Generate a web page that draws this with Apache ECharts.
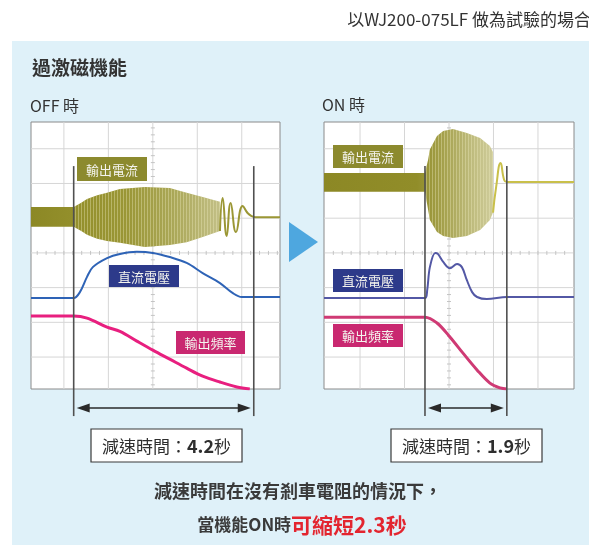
<!DOCTYPE html>
<html><head><meta charset="utf-8">
<script src="https://cdn.jsdelivr.net/npm/echarts@6/dist/echarts.min.js"></script>
<style>html,body{margin:0;padding:0;background:#fff}#c{width:589px;height:545px}</style>
</head><body><div id="c"></div><script>
// ---- data (x in scope divisions, y in scope divisions) ----
const gridX = [0, 1, 2, 3, 4];
const gridY = [0, 1, 2, 3, 4, 5, 6];
const offCursors = [0.22, 4.27];
const onCursors = [1.46, 3.30];
const cursorSpan = [5.5, -1.70];
const arrowLevel = -1.47;

// OFF panel
const offCurrentEnv = [ // [x, upper, lower]
  [-0.74, 4.32, 3.75], [0.22, 4.32, 3.75], [0.40, 4.45, 3.62], [0.52, 4.55, 3.52], [0.75, 4.66, 3.41],
  [0.97, 4.73, 3.34], [1.26, 4.84, 3.29], [1.82, 4.90, 3.17], [2.38, 4.87, 3.23], [2.76, 4.73, 3.31],
  [3.12, 4.61, 3.46], [3.51, 4.47, 3.63]
];
const offCurrentTail = [
  [3.51, 3.63], [3.57, 4.58], [3.66, 3.49], [3.75, 4.44], [3.87, 3.60],
  [4.02, 4.35], [4.13, 4.15], [4.22, 4.06], [4.31, 4.03], [4.86, 4.03]
];
const offVoltage = [
  [-0.74, 1.70], [0.22, 1.70], [0.36, 1.87], [0.52, 2.31], [0.65, 2.59], [0.97, 2.85],
  [1.26, 2.97], [1.64, 3.03], [2.0, 3.0], [2.38, 2.88], [2.76, 2.71], [3.12, 2.42],
  [3.51, 2.13], [3.80, 1.84], [4.0, 1.73], [4.86, 1.73]
];
const offFreq = [
  [-0.74, 1.18], [0.22, 1.18], [0.52, 1.12], [0.97, 0.86], [1.26, 0.74], [1.64, 0.46],
  [2.0, 0.20], [2.38, -0.06], [2.76, -0.32], [3.12, -0.55], [3.51, -0.72], [3.89, -0.86],
  [4.18, -0.92]
];

// ON panel
const onCurrentEnv = [
  [-0.81, 5.30, 4.76], [1.46, 5.30, 4.76], [1.53, 5.68, 4.24], [1.57, 5.98, 3.95],
  [1.73, 6.37, 3.60], [1.87, 6.51, 3.49], [2.09, 6.57, 3.43], [2.40, 6.45, 3.49],
  [2.70, 6.31, 3.66], [2.92, 6.08, 3.95], [2.99, 5.90, 4.16]
];
const onCurrentTail = [
  [2.99, 4.16], [3.06, 4.9], [3.16, 5.59], [3.24, 5.10], [3.30, 5.04], [4.81, 5.04]
];
const onVoltage = [
  [-0.81, 1.70], [1.46, 1.70], [1.51, 1.93], [1.57, 2.59], [1.69, 3.0], [1.75, 2.97],
  [1.87, 2.74], [2.02, 2.56], [2.18, 2.68], [2.29, 2.59], [2.40, 2.22], [2.52, 1.87],
  [2.63, 1.73], [2.85, 1.67], [3.30, 1.73], [4.81, 1.73]
];
const onFreq = [
  [-0.81, 1.15], [1.46, 1.15], [1.73, 0.98], [2.02, 0.58], [2.31, 0.12], [2.63, -0.37],
  [2.92, -0.75], [3.15, -0.89], [3.30, -0.92]
];

const decelTimes = ['4.2', '1.9'];
const savedTime = '2.3';
const signalNames = ['輸出電流', '直流電壓', '輸出頻率'];

// ---- chart ----
const FONT = '"Noto Sans CJK TC", "Noto Sans", sans-serif';
const chart = echarts.init(document.getElementById('c'), null, {renderer: 'canvas'});

// stripe texture to suggest the dense oscillation of the current trace
const stripeCanvas = document.createElement('canvas');
stripeCanvas.width = 3; stripeCanvas.height = 4;
(function () {
  const ctx = stripeCanvas.getContext('2d');
  ctx.fillStyle = 'rgba(236,234,190,0.38)';
  ctx.fillRect(0, 0, 1, 4);
})();

function gridRender(params, api) {
  if (params.dataIndex !== 0) return;
  const cs = params.coordSys;
  const children = [];
  gridX.forEach(v => {
    const p = api.coord([v, 0]);
    children.push({type: 'line', shape: {x1: p[0], y1: cs.y, x2: p[0], y2: cs.y + cs.height},
      style: {stroke: '#d6d6d6', lineWidth: 1}});
  });
  gridY.forEach(v => {
    const p = api.coord([0, v]);
    children.push({type: 'line', shape: {x1: cs.x, y1: p[1], x2: cs.x + cs.width, y2: p[1]},
      style: {stroke: '#d6d6d6', lineWidth: 1}});
  });
  const cx = api.coord([2, 0])[0];
  const cy = api.coord([0, 3])[1];
  for (let v = -0.8; v <= 6.8; v += 0.2) {
    const y = api.coord([0, v])[1];
    if (y > cs.y && y < cs.y + cs.height)
      children.push({type: 'line', shape: {x1: cx - 2, y1: y, x2: cx + 2, y2: y}, style: {stroke: '#c4c4c4', lineWidth: 1}});
  }
  for (let v = -0.8; v <= 4.9; v += 0.2) {
    const x = api.coord([v, 0])[0];
    if (x > cs.x && x < cs.x + cs.width)
      children.push({type: 'line', shape: {x1: x, y1: cy - 2, x2: x, y2: cy + 2}, style: {stroke: '#c4c4c4', lineWidth: 1}});
  }
  return {type: 'group', children};
}

function bandRender(rows, fill, startX) {
  return function (params, api) {
    if (params.dataIndex !== 0) return;
    const pts = [];
    rows.forEach(r => pts.push(api.coord([r[0], r[1]])));
    for (let i = rows.length - 1; i >= 0; i--) pts.push(api.coord([rows[i][0], rows[i][2]]));
    const sub = rows.filter(r => r[0] >= startX);
    const pts2 = [];
    sub.forEach(r => pts2.push(api.coord([r[0], r[1]])));
    for (let i = sub.length - 1; i >= 0; i--) pts2.push(api.coord([sub[i][0], sub[i][2]]));
    return {type: 'group', children: [
      {type: 'polygon', shape: {points: pts}, style: {fill}},
      {type: 'polygon', shape: {points: pts2}, style: {fill: {image: stripeCanvas, repeat: 'repeat'}}}
    ]};
  };
}

function cursorRender(params, api) {
  const x = api.value(0);
  const a = api.coord([x, cursorSpan[0]]);
  const b = api.coord([x, cursorSpan[1]]);
  return {type: 'line', shape: {x1: a[0], y1: a[1], x2: b[0], y2: b[1]}, style: {stroke: '#505050', lineWidth: 1.6}};
}

function arrowRender(cur) {
  return function (params, api) {
    if (params.dataIndex !== 0) return;
    const a = api.coord([cur[0], arrowLevel]);
    const b = api.coord([cur[1], arrowLevel]);
    const x1 = a[0] + 3, x2 = b[0] - 3, y = a[1];
    return {type: 'group', children: [
      {type: 'line', shape: {x1: x1 + 8, y1: y, x2: x2 - 8, y2: y}, style: {stroke: '#2a2a2a', lineWidth: 1.5}},
      {type: 'polygon', shape: {points: [[x1, y], [x1 + 13, y - 4.5], [x1 + 13, y + 4.5]]}, style: {fill: '#2a2a2a'}},
      {type: 'polygon', shape: {points: [[x2, y], [x2 - 13, y - 4.5], [x2 - 13, y + 4.5]]}, style: {fill: '#2a2a2a'}}
    ]};
  };
}

const offBandFill = new echarts.graphic.LinearGradient(0, 0, 1, 0, [
  {offset: 0, color: '#8c8825'}, {offset: 0.25, color: '#94902c'}, {offset: 0.5, color: '#9a9636'},
  {offset: 0.75, color: '#aaa757'}, {offset: 1, color: '#c2bf86'}]);
const onBandFill = new echarts.graphic.LinearGradient(0, 0, 1, 0, [
  {offset: 0, color: '#8c8825'}, {offset: 0.55, color: '#918d29'}, {offset: 0.7, color: '#a4a04b'},
  {offset: 0.85, color: '#bbb877'}, {offset: 1, color: '#cfcc9b'}]);

function panelSeries(gi, env, tail, volt, freq, cur, bandFill, vColor, fColor, tailColor) {
  const base = {xAxisIndex: gi, yAxisIndex: gi, silent: true, animation: false};
  return [
    Object.assign({type: 'custom', data: [[0, 0]], renderItem: gridRender, z: 1, clip: true}, base),
    Object.assign({type: 'custom', data: env.map(r => [r[0], r[1], r[2]]), renderItem: bandRender(env, bandFill, cur[0]), z: 2, clip: true}, base),
    Object.assign({type: 'line', data: tail, showSymbol: false, smooth: 0.5, z: 3, clip: true,
      lineStyle: {color: tailColor, width: 2}}, base),
    Object.assign({type: 'line', data: volt, showSymbol: false, smooth: 0.35, z: 3, clip: true,
      lineStyle: {color: vColor, width: 2}}, base),
    Object.assign({type: 'line', data: freq, showSymbol: false, smooth: 0.35, z: 3, clip: true,
      lineStyle: {color: fColor, width: 3}}, base),
    Object.assign({type: 'custom', data: cur.map(v => [v, 0]), renderItem: cursorRender, z: 5, clip: false}, base),
    Object.assign({type: 'custom', data: [[cur[0], arrowLevel]], renderItem: arrowRender(cur), z: 5, clip: false}, base)
  ];
}

function labelBox(x, y, w, h, color, text) {
  return {type: 'group', z: 100, children: [
    {type: 'rect', shape: {x, y, width: w, height: h}, style: {fill: color}, z: 100},
    {type: 'text', z: 101, style: {text, x: x + w / 2, y: y + h / 2 + 1, align: 'center', verticalAlign: 'middle',
      font: '13px ' + FONT, fill: '#f4f4ee'}}
  ]};
}

function decelBox(x, y, w, h, val) {
  return {type: 'group', z: 100, children: [
    {type: 'rect', z: 100, shape: {x, y, width: w, height: h}, style: {fill: '#fff', stroke: '#3a3a3a', lineWidth: 1.2}},
    {type: 'text', z: 101, style: {text: '{a|減速時間：}{b|' + val + '}{a|秒}', x: x + w / 2, y: y + h / 2 + 1,
      align: 'center', verticalAlign: 'middle',
      rich: {a: {font: '17px ' + FONT, fill: '#2e2e2e'}, b: {font: 'bold 18px ' + FONT, fill: '#2e2e2e'}}}}
  ]};
}

const option = {
  animation: false,
  backgroundColor: '#ffffff',
  grid: [
    {left: 31, top: 122, width: 249, height: 267, show: true, backgroundColor: '#fff', borderColor: '#8a8a8a', borderWidth: 1, z: 0},
    {left: 324, top: 122, width: 250, height: 267, show: true, backgroundColor: '#fff', borderColor: '#8a8a8a', borderWidth: 1, z: 0}
  ],
  xAxis: [
    {gridIndex: 0, type: 'value', min: -0.74, max: 4.86, show: false},
    {gridIndex: 1, type: 'value', min: -0.81, max: 4.81, show: false}
  ],
  yAxis: [
    {gridIndex: 0, type: 'value', min: -0.92, max: 6.77, show: false},
    {gridIndex: 1, type: 'value', min: -0.92, max: 6.77, show: false}
  ],
  series: [].concat(
    panelSeries(0, offCurrentEnv, offCurrentTail, offVoltage, offFreq, offCursors, offBandFill, '#2e63b6', '#e81f7f', '#9b9735'),
    panelSeries(1, onCurrentEnv, onCurrentTail, onVoltage, onFreq, onCursors, onBandFill, '#5358a5', '#cf3a74', '#c9c04a')
  ),
  graphic: {elements: [
    {type: 'rect', z: -100, shape: {x: 12, y: 41, width: 577, height: 504}, style: {fill: '#dff1f9'}},
    {type: 'text', style: {text: '以WJ200-075LF 做為試驗的場合', x: 591, y: 20, align: 'right', verticalAlign: 'middle', font: '17px ' + FONT, fill: '#333'}},
    {type: 'text', style: {text: '過激磁機能', x: 32, y: 68, align: 'left', verticalAlign: 'middle', font: 'bold 19px ' + FONT, fill: '#333'}},
    {type: 'text', style: {text: 'OFF 時', x: 30, y: 106, align: 'left', verticalAlign: 'middle', font: '16px ' + FONT, fill: '#333'}},
    {type: 'text', style: {text: 'ON 時', x: 322, y: 105, align: 'left', verticalAlign: 'middle', font: '16px ' + FONT, fill: '#333'}},
    {type: 'polygon', shape: {points: [[289, 222], [318, 242], [289, 262]]}, style: {fill: '#4ea7df'}},
    labelBox(77, 157, 70, 24, '#8c8a2e', signalNames[0]),
    labelBox(109, 265, 70, 22, '#2d3a8a', signalNames[1]),
    labelBox(176, 331, 69, 23, '#c92870', signalNames[2]),
    labelBox(333, 145, 70, 23, '#8c8a2e', signalNames[0]),
    labelBox(333, 269, 70, 23, '#2d3a8a', signalNames[1]),
    labelBox(333, 324, 70, 23, '#c92870', signalNames[2]),
    decelBox(91, 429, 151, 33, decelTimes[0]),
    decelBox(391, 429, 151, 33, decelTimes[1]),
    {type: 'text', style: {text: '減速時間在沒有剎車電阻的情況下，', x: 298, y: 491, align: 'center', verticalAlign: 'middle', font: 'bold 18px ' + FONT, fill: '#3a3a3a'}},
    {type: 'text', style: {text: '{a|當機能ON時}{b|可縮短' + savedTime + '秒}', x: 302, y: 525, align: 'center', verticalAlign: 'middle',
      rich: {a: {font: 'bold 17px ' + FONT, fill: '#3a3a3a'}, b: {font: 'bold 21px ' + FONT, fill: '#e3252f'}}}}
  ]}
};
chart.setOption(option);
</script></body></html>
